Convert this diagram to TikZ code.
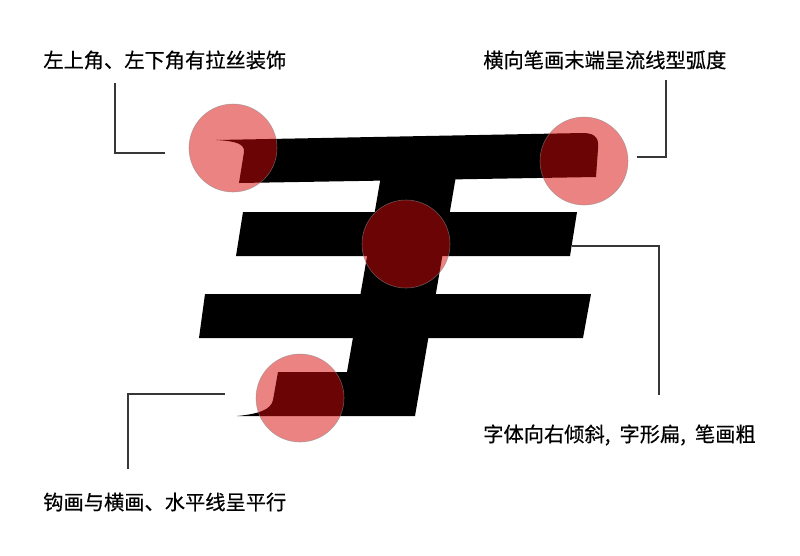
\documentclass[tikz,border=0pt]{standalone}
\usepackage{fontspec}
\newfontfamily\cjk[FakeBold=0.5]{Noto Sans CJK SC}
\definecolor{markred}{RGB}{215,8,8}
\definecolor{leadgray}{RGB}{55,55,55}
\begin{document}
\begin{tikzpicture}[x=0.025cm, y=-0.025cm, font=\cjk\fontsize{14.4}{17}\selectfont, line join=round, line cap=round,
	spot/.style={circle, minimum size=2.2cm, inner sep=0pt, fill=markred, fill opacity=0.5, draw=black!45, draw opacity=0.6, line width=0.4pt},
	lead/.style={draw=leadgray, line width=0.07cm, line cap=butt, line join=miter},
	note/.style={anchor=west, inner sep=0pt}]
	\useasboundingbox (0,0) rectangle (800,555);
	% the slanted glyph
	\fill (216,140) -- (583,133) .. controls (597,133) and (599,140) .. (598,149) -- (596,177) -- (239,183) -- (244,152) .. controls (245,144) and (236,141) .. (216,140) -- cycle;
	\fill (243,212) -- (577,212) -- (570,256) -- (236,256) -- cycle;
	\fill (205,294) -- (591,294) -- (583,338) -- (199,338) -- cycle;
	\fill (382,170) -- (457,170) -- (415,416) -- (237,416) .. controls (258,414) and (271,410) .. (273,400) -- (278,372) -- (347,372) -- cycle;
	% marks
	\node[spot] (topleft) at (233,148) {};
	\node[spot] (topright) at (584,161) {};
	\node[spot] (middle) at (406,244) {};
	\node[spot] (hookend) at (300,398) {};
	% notes
	\node[note] (cornertxt) at (43,60) {左上角、左下角有拉丝装饰};
	\node[note] (endtxt) at (483,60) {横向笔画末端呈流线型弧度};
	\node[note] (slanttxt) at (483,435) {字体向右倾斜,\hspace{.45em}字形扁,\hspace{.45em}笔画粗};
	\node[note] (hooktxt) at (43,502) {钩画与横画、水平线呈平行};
	% leader lines
	\coordinate (cornerA) at (115,83);
	\coordinate (cornerB) at (165,153);
	\coordinate (endA) at (666,80);
	\coordinate (endB) at (637,157);
	\coordinate (slantA) at (572,246);
	\coordinate (slantB) at (659,395);
	\coordinate (hookA) at (128,469);
	\coordinate (hookB) at (225,394);
	\draw[lead] (cornerA) |- (cornerB);
	\draw[lead] (endA) |- (endB);
	\draw[lead] (slantA) -| (slantB);
	\draw[lead] (hookA) |- (hookB);
\end{tikzpicture}
\end{document}
